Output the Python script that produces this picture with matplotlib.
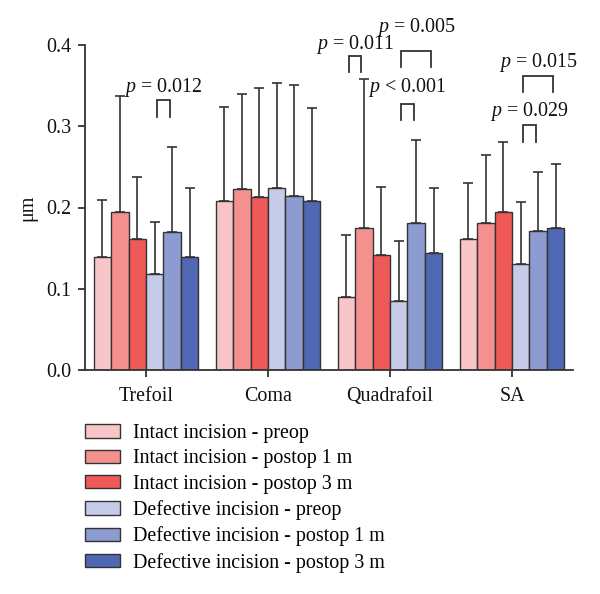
"""Zernike higher-order aberrations by incision group, grouped bar chart."""

import matplotlib

matplotlib.use("Agg")
import matplotlib.pyplot as plt
from matplotlib.patches import Patch
import numpy as np

categories = ["Trefoil", "Coma", "Quadrafoil", "SA"]
groups = [
    "Intact incision - preop",
    "Intact incision - postop 1 m",
    "Intact incision - postop 3 m",
    "Defective incision - preop",
    "Defective incision - postop 1 m",
    "Defective incision - postop 3 m",
]
colors = ["#F8C6C8", "#F4918F", "#EF5A59", "#C6CBE9", "#8C9BD0", "#5068B3"]

# mean values per group (rows) and category (columns)
means = [
    [0.139, 0.208, 0.090, 0.161],
    [0.195, 0.223, 0.175, 0.181],
    [0.161, 0.213, 0.142, 0.195],
    [0.118, 0.224, 0.085, 0.131],
    [0.170, 0.214, 0.181, 0.171],
    [0.139, 0.208, 0.144, 0.175],
]
# upper end of the error bar (mean + SD)
upper = [
    [0.209, 0.324, 0.166, 0.230],
    [0.337, 0.340, 0.358, 0.265],
    [0.237, 0.347, 0.225, 0.280],
    [0.182, 0.353, 0.159, 0.207],
    [0.274, 0.351, 0.283, 0.244],
    [0.224, 0.323, 0.224, 0.253],
]

# significance brackets: (category, bar a, bar b, bracket top, label y, label)
brackets = [
    (0, 3, 4, 0.332, 0.348, "p = 0.012"),
    (2, 0, 1, 0.387, 0.401, "p = 0.011"),
    (2, 3, 5, 0.393, 0.422, "p = 0.005"),
    (2, 3, 4, 0.328, 0.348, "p < 0.001"),
    (3, 3, 4, 0.301, 0.318, "p = 0.029"),
    (3, 3, 5, 0.362, 0.379, "p = 0.015"),
]

plt.rcParams["font.family"] = ["Liberation Serif", "DejaVu Serif"]
plt.rcParams["mathtext.fontset"] = "custom"
plt.rcParams["mathtext.it"] = "Liberation Serif:italic"
plt.rcParams["mathtext.rm"] = "Liberation Serif"
INK = "#333333"
FS = 14.4

fig = plt.figure(figsize=(6.0, 5.94), dpi=100)
ax = fig.add_axes([85 / 600, 1 - 370 / 594, 488 / 600, 325 / 594])

width = 0.143
x = np.arange(len(categories))
offsets = (np.arange(len(groups)) - 2.5) * width

for i, (name, color) in enumerate(zip(groups, colors)):
    m = np.array(means[i])
    err = np.array(upper[i]) - m
    ax.bar(x + offsets[i], m, width, color=color, edgecolor=INK, linewidth=1.0, zorder=2)
    ax.errorbar(
        x + offsets[i], m, yerr=[np.zeros_like(err), err], fmt="none",
        ecolor=INK, elinewidth=1.2, capsize=3.5, capthick=1.2, zorder=1,
    )

leg = 0.02
inset = 0.02
for cat, a, b, top, ty, label in brackets:
    xa = x[cat] + offsets[a] + inset
    xb = x[cat] + offsets[b] - inset
    ax.plot([xa, xa, xb, xb], [top - leg, top, top, top - leg], color=INK, lw=1.3,
            clip_on=False, solid_joinstyle="miter")
    ax.text((xa + xb) / 2, ty, r"$p$" + label[1:], ha="center", va="center",
            fontsize=FS, color="#111111", clip_on=False)

ax.set_xlim(-0.5, 3.5)
ax.set_ylim(0, 0.4)
ax.set_yticks([0.0, 0.1, 0.2, 0.3, 0.4])
ax.set_yticklabels([f"{v:.1f}" for v in [0.0, 0.1, 0.2, 0.3, 0.4]])
ax.set_xticks(x)
ax.set_xticklabels(categories)
ax.set_ylabel("μm", fontsize=FS, color="#111111", labelpad=6)
for side in ("top", "right"):
    ax.spines[side].set_visible(False)
for side in ("left", "bottom"):
    ax.spines[side].set_color(INK)
    ax.spines[side].set_linewidth(1.3)
ax.tick_params(axis="both", colors=INK, labelcolor="#111111", labelsize=FS,
               length=5, width=1.3, direction="out")
ax.tick_params(axis="y", pad=5)
ax.tick_params(axis="x", pad=17)
for lbl in ax.get_xticklabels():
    lbl.set_verticalalignment("baseline")

handles = [Patch(facecolor=c, edgecolor=INK, linewidth=1.0, label=g)
           for c, g in zip(colors, groups)]
fig.legend(
    handles=handles, loc="upper left", bbox_to_anchor=(85 / 600, 1 - 424 / 594),
    frameon=False, fontsize=FS, handlelength=1.75, handleheight=0.65,
    handletextpad=0.65, labelspacing=0.32, borderpad=0, borderaxespad=0,
)

fig.savefig("out.png", dpi=100)
